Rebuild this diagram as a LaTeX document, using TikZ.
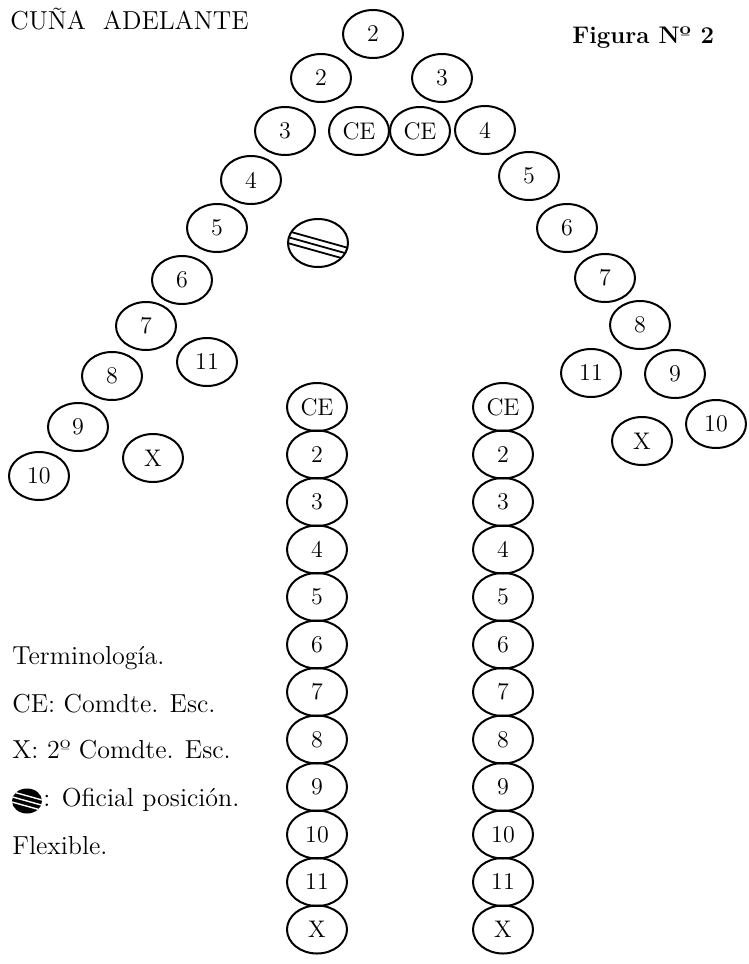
\documentclass[tikz,border=0pt]{standalone}
\usepackage{tikz}
\usetikzlibrary{shapes}

\tikzset{
  rider/.style={ellipse,draw,line width=1pt,minimum width=30pt,minimum height=24pt,inner sep=0pt,font=\fontsize{12}{14}\selectfont},
  officer/.style={rider,path picture={
      \foreach \o in {-3,0,3}
        \draw[line width=0.9pt,shift={(path picture bounding box.center)}] (-17pt,3.5pt+\o pt) -- (17pt,-6pt+\o pt);}},
  officermark/.style={ellipse,fill=black,minimum width=15pt,minimum height=12.5pt,inner sep=0pt,path picture={
      \foreach \o in {-2.6,0,2.6}
        \draw[white,line width=0.7pt,shift={(path picture bounding box.center)}] (-9pt,2.5pt+\o pt) -- (9pt,-2.5pt+\o pt);}},
  legend/.style={anchor=base west,inner sep=0pt,font=\fontsize{13}{15}\selectfont}
}

\begin{document}
\begin{tikzpicture}[x=0.5pt,y=-0.5pt]
\useasboundingbox (0,0) rectangle (749,964);

%Titles
\node (title) at (10,29) [legend] {CUÑA\ \ ADELANTE};
\node (fig) at (572,43) [legend,font=\fontsize{12}{14}\selectfont\bfseries] {Figura Nº\hspace{0.4em}2};

%Head of the wedge
\node (p2) at (373,34) [rider] {2};
\node (ce1) at (359,131) [rider] {CE};
\node (ce2) at (420,131) [rider] {CE};
\node (off) at (318,243) [officer] {};

%Left wing
\node (l2)  at (321,78)  [rider] {2};
\node (l3)  at (285,131) [rider] {3};
\node (l4)  at (251,180) [rider] {4};
\node (l5)  at (217,228) [rider] {5};
\node (l6)  at (182,280) [rider] {6};
\node (l7)  at (146,326) [rider] {7};
\node (l8)  at (112,376) [rider] {8};
\node (l9)  at (78,427)  [rider] {9};
\node (l10) at (39,476)  [rider] {10};
\node (l11) at (207,362) [rider] {11};
\node (lx)  at (153,458) [rider] {X};

%Right wing
\node (r3)  at (442,78)  [rider] {3};
\node (r4)  at (485,130) [rider] {4};
\node (r5)  at (529,176) [rider] {5};
\node (r6)  at (567,228) [rider] {6};
\node (r7)  at (605,278) [rider] {7};
\node (r8)  at (640,325) [rider] {8};
\node (r9)  at (675,374) [rider] {9};
\node (r10) at (716,424) [rider] {10};
\node (r11) at (591,373) [rider] {11};
\node (rx)  at (642,441) [rider] {X};

%Left column
\node (ace) at (317,407)   [rider] {CE};
\node (a2)  at (317,454.5) [rider] {2};
\node (a3)  at (317,502)   [rider] {3};
\node (a4)  at (317,549.5) [rider] {4};
\node (a5)  at (317,597)   [rider] {5};
\node (a6)  at (317,644.5) [rider] {6};
\node (a7)  at (317,692)   [rider] {7};
\node (a8)  at (317,739.5) [rider] {8};
\node (a9)  at (317,787)   [rider] {9};
\node (a10) at (317,834.5) [rider] {10};
\node (a11) at (317,882)   [rider] {11};
\node (ax)  at (317,929.5) [rider] {X};

%Right column
\node (bce) at (503,407)   [rider] {CE};
\node (b2)  at (503,454.5) [rider] {2};
\node (b3)  at (503,502)   [rider] {3};
\node (b4)  at (503,549.5) [rider] {4};
\node (b5)  at (503,597)   [rider] {5};
\node (b6)  at (503,644.5) [rider] {6};
\node (b7)  at (503,692)   [rider] {7};
\node (b8)  at (503,739.5) [rider] {8};
\node (b9)  at (503,787)   [rider] {9};
\node (b10) at (503,834.5) [rider] {10};
\node (b11) at (503,882)   [rider] {11};
\node (bx)  at (503,929.5) [rider] {X};

%Legend
\node (t1) at (12,664) [legend] {Terminología.};
\node (t2) at (12,712) [legend] {CE: Comdte. Esc.};
\node (t3) at (12,758) [legend] {X: 2º Comdte. Esc.};
\node (mark) at (27,801) [officermark] {};
\node (t4) at (43,806) [legend] {: Oficial posición.};
\node (t5) at (12,854) [legend] {Flexible.};

\end{tikzpicture}
\end{document}
